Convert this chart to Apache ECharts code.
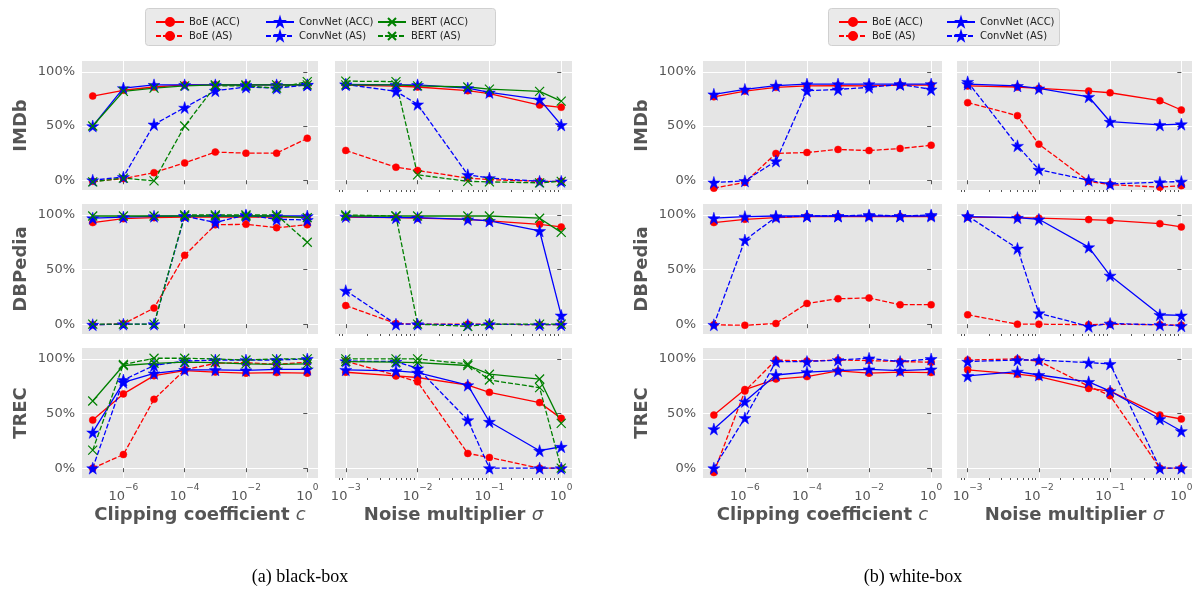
<!DOCTYPE html>
<html>
<head>
<meta charset="utf-8">
<script src="https://cdn.jsdelivr.net/npm/echarts@6/dist/echarts.min.js"></script>
<style>
  html, body { margin: 0; padding: 0; background: #fff; }
  #chart { width: 1198px; height: 590px; }
</style>
</head>
<body>
<div id="chart"></div>
<script>
// x values of the two sweeps
const clipX = [1e-7, 1e-6, 1e-5, 1e-4, 1e-3, 1e-2, 1e-1, 1];
const noiseX = [1e-3, 5e-3, 1e-2, 5e-2, 1e-1, 5e-1, 1];
const models = ['BoE (ACC)', 'BoE (AS)', 'ConvNet (ACC)', 'ConvNet (AS)', 'BERT (ACC)', 'BERT (AS)'];
const datasets = ['IMDb', 'DBPedia', 'TREC'];
const yTicks = [0, 50, 100];
const clipTicks = [-6, -4, -2, 0];
const noiseTicks = [-3, -2, -1, 0];
const captions = ['(a) black-box', '(b) white-box'];

// rows: BoE ACC, BoE AS, ConvNet ACC, ConvNet AS, BERT ACC, BERT AS  (in %)
const bbImdbClip = [
  [77.7, 83, 86, 88, 88, 88, 88, 88],
  [-1, 1.5, 7, 16, 26, 25, 25, 38.7],
  [50, 85, 88, 88, 88, 88, 88, 88],
  [0, 3, 51.5, 67, 82.6, 86, 85, 88],
  [50, 82, 85, 87, 88, 88, 88, 88],
  [-1.5, 2, -0.6, 50, 87, 87, 85, 91]
];
const bbImdbNoise = [
  [87.8, 86.9, 86, 82.6, 80, 69.4, 67.3],
  [27.5, 12, 9, 2, 0.6, -1, -1],
  [88.4, 88, 88, 85, 81, 74.6, 51],
  [88.4, 82, 70, 5, 2, -1, -1],
  [88, 88, 87, 86, 84, 82, 73],
  [91.4, 91, 5, -1, -1.5, -2.4, -1]
];
const bbDbpClip = [
  [93, 96.6, 97.5, 98, 98, 98, 98, 98],
  [-0.6, 0.3, 14.7, 63, 91, 91.4, 88.3, 91],
  [97, 98, 98.8, 99, 99, 99, 99, 99],
  [-0.5, 0, 0, 99, 93, 100, 96, 95.4],
  [99, 99, 99, 99, 99, 99, 99, 97.5],
  [0, 0, 0, 100, 100, 100, 100, 75]
];
const bbDbpNoise = [
  [98, 97.5, 97, 96, 94.5, 91.4, 89],
  [17, 0.6, 0, 0, 0, -0.5, -0.5],
  [98.5, 97.5, 97.5, 96, 94.5, 85.3, 8],
  [30.7, 0, 0, -0.5, 0, -0.5, -0.5],
  [99, 99, 99, 99, 99, 97, 84],
  [100, 99, 0, -2, 0, 0, 0]
];
const bbTrecClip = [
  [44, 68, 84.7, 89.3, 88, 87, 87.5, 87],
  [0, 12.5, 63, 90, 96, 96.6, 95, 97],
  [32.7, 78.6, 86.8, 90, 90, 89.6, 90.5, 90.5],
  [0, 80.7, 94, 98, 99, 99, 99, 100],
  [61.5, 94, 96, 97, 96.6, 95.4, 95, 95.4],
  [16.5, 95, 100.6, 100.6, 100, 99, 100, 100]
];
const bbTrecNoise = [
  [87.8, 84.4, 83, 76, 69.4, 60, 45.6],
  [98, 85, 79, 13.5, 9.8, 0, 0],
  [90, 89, 87.5, 76, 42.5, 16, 19.6],
  [98, 97.6, 91.4, 44, 0, 0, 0],
  [97.6, 97, 96.6, 94, 86, 81.6, 41],
  [100, 100, 100, 95.4, 80.7, 73.7, 0]
];

// white-box: BoE ACC, BoE AS, ConvNet ACC, ConvNet AS
const wbImdbClip = [
  [77, 82.3, 85.7, 87, 87.2, 87, 87.8, 87.8],
  [-7.3, -2, 24.7, 25.6, 28.4, 27.4, 29.3, 32.3],
  [79.3, 83.8, 87.2, 88.7, 88.7, 88.7, 88.7, 88.7],
  [-2, -0.6, 17.7, 82.6, 83.8, 85.7, 88.4, 83.8]
];
const wbImdbNoise = [
  [87, 86, 84.7, 82.3, 80.7, 73.4, 64.8],
  [71.6, 59.6, 33.3, -1, -4, -6.4, -5],
  [88.7, 87, 84.7, 77, 54, 51, 51.7],
  [90.8, 31.8, 9.8, 0, -3.4, -1.8, -1.2]
];
const wbDbpClip = [
  [93, 96, 97.5, 98.5, 98.5, 98.5, 98.5, 98.5],
  [-0.6, -1, 0.6, 19, 23.3, 24, 17.8, 17.8],
  [97, 98.5, 99, 99, 99, 99, 99, 99],
  [-0.6, 77, 98, 99, 99, 100, 99, 100]
];
const wbDbpNoise = [
  [98, 97.5, 97, 95.7, 95, 92, 89],
  [8.6, 0, 0, -0.5, 0, -0.5, -1],
  [98.5, 97.5, 96, 70.5, 44.5, 8.6, 8],
  [99, 69.3, 10, -2, 0.6, -0.6, -1.5]
];
const wbTrecClip = [
  [48.6, 72, 81.6, 83.8, 89, 87, 88, 87.5],
  [-4, 70.6, 99, 98, 99, 98.5, 97.6, 97],
  [35.8, 61, 85.3, 88, 89.3, 90.5, 89.3, 90.5],
  [0, 46, 97.6, 97.6, 99, 100.6, 97.6, 100]
];
const wbTrecNoise = [
  [90, 86, 83.8, 73, 70.6, 48.6, 45],
  [99, 100, 98, 75, 66.4, 0, 0],
  [84.4, 88.4, 85.3, 79, 70.6, 45, 34],
  [97.6, 99, 99, 96.6, 95.4, 0, 0]
];

const FONT = 'DejaVu Sans';
const GREY = '#555555';
const STAR = 'path://M50,0 L61,35 L98,35 L68,57 L79,91 L50,70 L21,91 L32,57 L2,35 L39,35 Z';
const CROSS = 'path://M0,0 L10,10 M10,0 L0,10';

const styles = [
  { color: '#ff0000', dashed: false, symbol: 'circle', size: 7 },
  { color: '#ff0000', dashed: true, symbol: 'circle', size: 7 },
  { color: '#0000ff', dashed: false, symbol: STAR, size: 12 },
  { color: '#0000ff', dashed: true, symbol: STAR, size: 12 },
  { color: '#008000', dashed: false, symbol: CROSS, size: 9, hollow: true },
  { color: '#008000', dashed: true, symbol: CROSS, size: 9, hollow: true }
];

const groups = [
  { lefts: [82, 335], widths: [236, 237], panels: [[bbImdbClip, bbImdbNoise], [bbDbpClip, bbDbpNoise], [bbTrecClip, bbTrecNoise]] },
  { lefts: [703, 957], widths: [239, 235], panels: [[wbImdbClip, wbImdbNoise], [wbDbpClip, wbDbpNoise], [wbTrecClip, wbTrecNoise]] }
];
const rowTops = [61, 204, 348];
const rowHeights = [129, 130, 130];

const clipRange = [-7.35, 0.35];
const noiseRange = [-3.15, 0.15];
const noiseMinor = [];
for (let k = -4; k <= 0; k++) {
  for (let m = 2; m <= 9; m++) {
    const v = Math.log10(m * Math.pow(10, k));
    if (v > noiseRange[0] && v < noiseRange[1]) noiseMinor.push(v);
  }
}

function supLabel(v) {
  const s = v < 0 ? '\u2212' + Math.abs(v) : String(v);
  return '{b|10}{s|' + s + '}';
}
const supRich = {
  b: { fontSize: 13, color: GREY, fontFamily: FONT, lineHeight: 20, verticalAlign: 'bottom' },
  s: { fontSize: 9, color: GREY, fontFamily: FONT, lineHeight: 12, verticalAlign: 'top' }
};

const grids = [], xAxes = [], yAxes = [], series = [];

groups.forEach((g) => {
  g.panels.forEach((row, r) => {
    row.forEach((vals, c) => {
      const gi = grids.length;
      grids.push({
        left: g.lefts[c], top: rowTops[r], width: g.widths[c], height: rowHeights[r],
        show: true, backgroundColor: '#e5e5e5', borderWidth: 0
      });
      const isClip = c === 0;
      const bottomRow = r === 2;
      const range = isClip ? clipRange : noiseRange;
      const ticks = isClip ? clipTicks : noiseTicks;
      const xi = xAxes.length;
      xAxes.push({
        type: 'value', gridIndex: gi, position: 'bottom',
        min: range[0], max: range[1],
        axisLine: { show: false },
        axisTick: { show: true, customValues: ticks, length: 4, lineStyle: { color: GREY } },
        axisLabel: {
          show: bottomRow, customValues: ticks, margin: 5,
          formatter: supLabel, rich: supRich
        },
        splitLine: { show: true, lineStyle: { color: '#ffffff', width: 1 } },
        name: bottomRow ? (isClip ? '{t|Clipping coefficient }{i|c}' : '{t|Noise multiplier }{i|\u03c3}') : '',
        nameLocation: 'middle', nameGap: 28,
        nameTextStyle: {
          rich: {
            t: { fontSize: 18, fontWeight: 'bold', color: GREY, fontFamily: FONT },
            i: { fontSize: 18, fontStyle: 'italic', color: GREY, fontFamily: FONT }
          }
        }
      });
      if (!isClip) {
        xAxes.push({
          type: 'value', gridIndex: gi, position: 'bottom',
          min: range[0], max: range[1],
          axisLine: { show: false },
          axisTick: { show: true, customValues: noiseMinor, length: 2, lineStyle: { color: GREY } },
          axisLabel: { show: false },
          splitLine: { show: false }
        });
      }
      const yi = yAxes.length;
      yAxes.push({
        type: 'value', gridIndex: gi, min: -9, max: 110,
        axisLine: { show: false },
        axisTick: { show: true, customValues: yTicks, length: 4, lineStyle: { color: GREY } },
        axisLabel: {
          show: isClip, customValues: yTicks, margin: 7,
          formatter: (v) => v + '%', color: GREY, fontSize: 13, fontFamily: FONT
        },
        splitLine: { show: true, lineStyle: { color: '#ffffff', width: 1 } },
        name: isClip ? datasets[r] : '',
        nameLocation: 'middle', nameGap: 52, nameRotate: 90,
        nameTextStyle: { fontSize: 18, fontWeight: 'bold', color: GREY, fontFamily: FONT }
      });
      const xs = isClip ? clipX : noiseX;
      vals.forEach((ys, m) => {
        const st = styles[m];
        series.push({
          name: models[m], type: 'line', xAxisIndex: xi, yAxisIndex: yi,
          data: xs.map((x, j) => [Math.log10(x), ys[j]]),
          symbol: st.symbol, symbolSize: st.size,
          lineStyle: { color: st.color, width: 1.3, type: st.dashed ? [5, 2] : 'solid' },
          itemStyle: st.hollow
            ? { color: 'rgba(0,0,0,0)', borderColor: st.color, borderWidth: 1.2 }
            : { color: st.color, borderColor: st.color, borderWidth: 0.5 },
          emphasis: { disabled: true }
        });
      });
    });
  });
});

function legendCol(left, names) {
  return {
    orient: 'vertical', left: left, top: 12, itemGap: 4,
    itemWidth: 28, itemHeight: 10,
    data: names,
    textStyle: { fontSize: 10, color: '#222', fontFamily: FONT },
    selectedMode: false
  };
}

const legends = [
  legendCol(150, models.slice(0, 2)),
  legendCol(260, models.slice(2, 4)),
  legendCol(372, models.slice(4, 6)),
  legendCol(833, models.slice(0, 2)),
  legendCol(941, models.slice(2, 4))
];

const chart = echarts.init(document.getElementById('chart'));
chart.setOption({
  animation: false,
  backgroundColor: '#ffffff',
  grid: grids,
  xAxis: xAxes,
  yAxis: yAxes,
  series: series,
  legend: legends,
  graphic: [
    { type: 'rect', left: 145, top: 8, shape: { width: 350, height: 37, r: 3 },
      style: { fill: '#eaeaea', stroke: '#d0d0d0', lineWidth: 1 }, z: -1 },
    { type: 'rect', left: 828, top: 8, shape: { width: 231, height: 37, r: 3 },
      style: { fill: '#eaeaea', stroke: '#d0d0d0', lineWidth: 1 }, z: -1 },
    { type: 'text', x: 300, y: 577, style: { text: captions[0], fontSize: 18, fontFamily: 'Liberation Serif', fill: '#000', textAlign: 'center', textVerticalAlign: 'middle' } },
    { type: 'text', x: 913, y: 577, style: { text: captions[1], fontSize: 18, fontFamily: 'Liberation Serif', fill: '#000', textAlign: 'center', textVerticalAlign: 'middle' } }
  ]
});
</script>
</body>
</html>
